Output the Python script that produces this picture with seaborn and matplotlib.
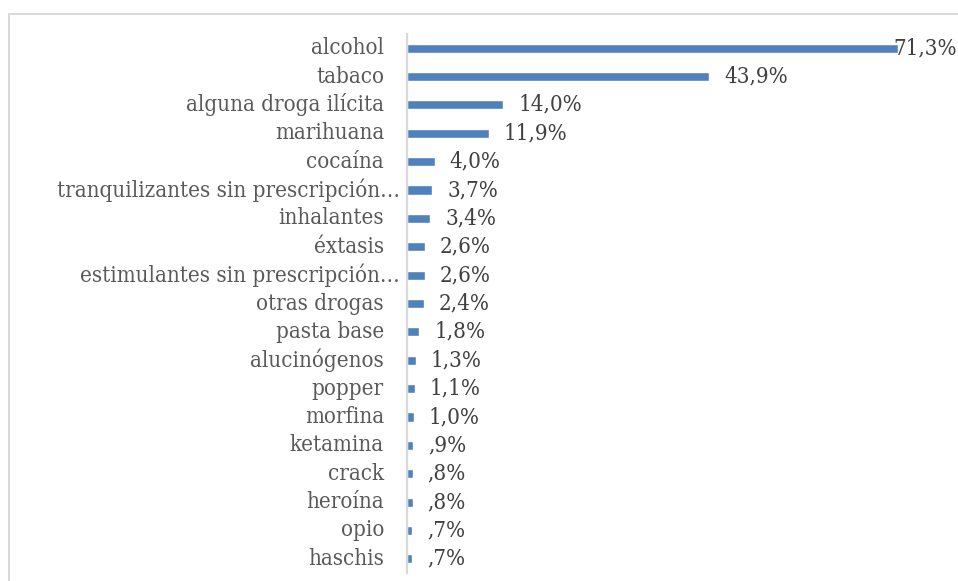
import matplotlib
matplotlib.use("Agg")
import matplotlib.pyplot as plt
import seaborn as sns
from matplotlib.patches import Rectangle

categories = [
    "alcohol", "tabaco", "alguna droga ilícita", "marihuana", "cocaína",
    "tranquilizantes sin prescripción…", "inhalantes", "éxtasis",
    "estimulantes sin prescripción…", "otras drogas", "pasta base",
    "alucinógenos", "popper", "morfina", "ketamina", "crack", "heroína",
    "opio", "haschis",
]
values = [71.3, 43.9, 14.0, 11.9, 4.0, 3.7, 3.4, 2.6, 2.6, 2.4, 1.8,
          1.3, 1.1, 1.0, 0.9, 0.8, 0.8, 0.7, 0.7]
value_labels = ["71,3%", "43,9%", "14,0%", "11,9%", "4,0%", "3,7%", "3,4%",
                "2,6%", "2,6%", "2,4%", "1,8%", "1,3%", "1,1%", "1,0%",
                ",9%", ",8%", ",8%", ",7%", ",7%"]

sns.set_theme(style="white")
plt.rcParams["font.family"] = ["DejaVu Serif"]

W, H = 958, 581
fig = plt.figure(figsize=(W / 100, H / 100), dpi=100)
fig.patch.set_facecolor("white")

ax = fig.add_axes([407 / W, 8 / H, 1 - 407 / W, 539 / H])
sns.barplot(x=values, y=categories, orient="h", color="#4f81bd",
            saturation=1, width=0.32, ax=ax)
ax.set_xlim(0, 80)
ax.set_xticks([])
ax.set_yticklabels([])
ax.tick_params(axis="y", length=0)
ax.set_xlabel("")
ax.set_ylabel("")
for side in ("top", "right", "bottom"):
    ax.spines[side].set_visible(False)
ax.spines["left"].set_color("#d9d9d9")
ax.spines["left"].set_linewidth(1.6)

# category names, right-aligned against the axis
for i, cat in enumerate(categories):
    pad = 7 if cat.endswith("…") else 23
    ax.annotate(cat, xy=(0, i), xycoords=("axes fraction", "data"),
                xytext=(-pad, 0), textcoords="offset pixels",
                ha="right", va="center", fontsize=16, fontstretch="condensed",
                color="#595959")

# value labels at the end of each bar
value_texts = []
for i, (v, lab) in enumerate(zip(values, value_labels)):
    t = ax.annotate(lab, xy=(v, i), xytext=(15, 0), textcoords="offset pixels",
                    ha="left", va="center", fontsize=16, fontstretch="condensed",
                    color="#404040", annotation_clip=False)
    value_texts.append(t)

# keep labels inside the figure
fig.canvas.draw()
renderer = fig.canvas.get_renderer()
for t in value_texts:
    bb = t.get_window_extent(renderer)
    if bb.x1 > fig.bbox.x1 - 1:
        dx = bb.x1 - (fig.bbox.x1 - 1)
        t.xyann = (t.xyann[0] - dx, t.xyann[1])

# outer chart frame
fig.patches.append(Rectangle((8.5 / W, -0.05), 1.2, (H - 13.5) / H + 0.05,
                             transform=fig.transFigure, fill=False,
                             edgecolor="#d9d9d9", linewidth=1.4))

fig.savefig("out.png", dpi=100)
